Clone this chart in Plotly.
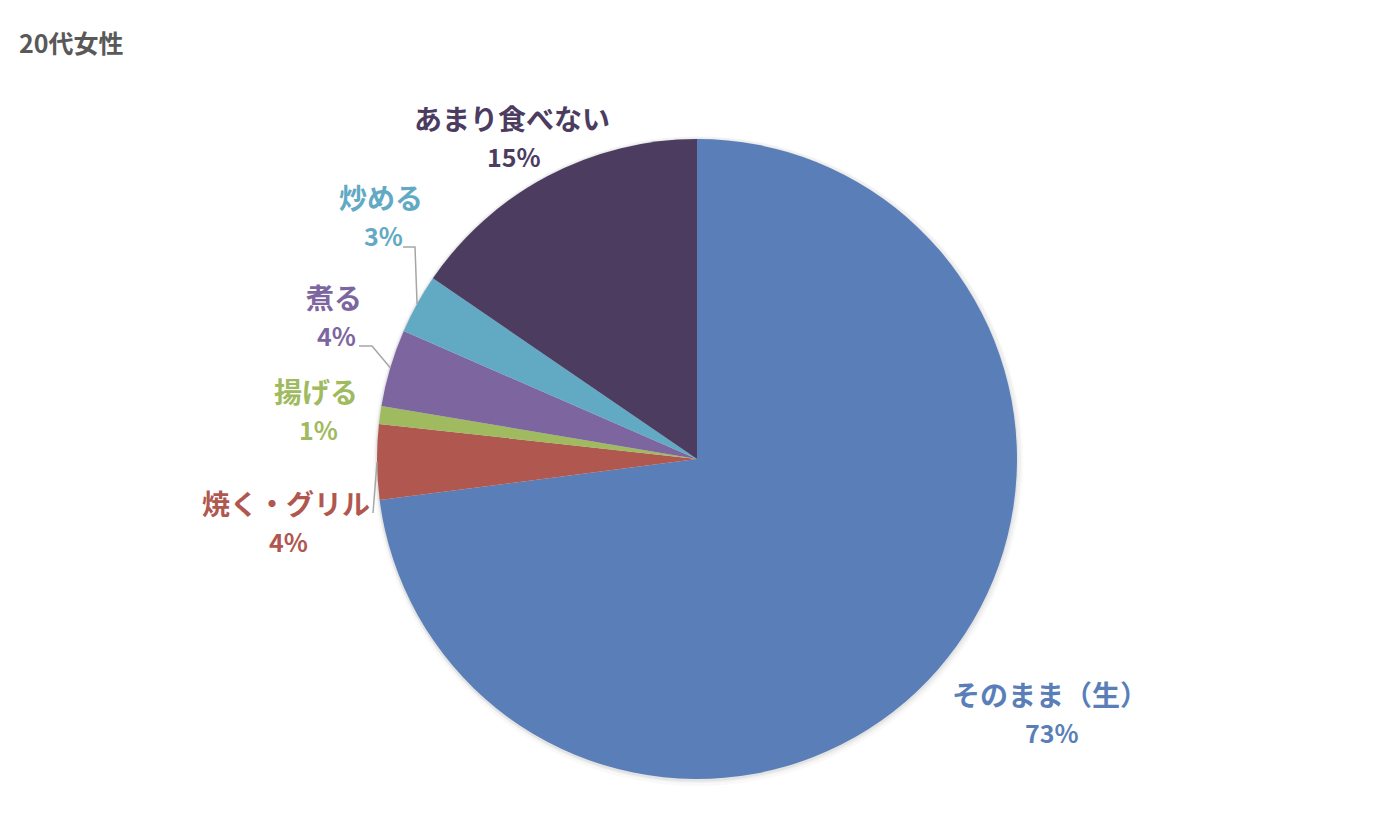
import math
import plotly.graph_objects as go

# page body has an 8px margin, so the figure is a bit smaller than the window
OFF = 8
W, H = 1384, 824

# data (clockwise from 12 o'clock)
labels = ["そのまま（生）", "焼く・グリル", "揚げる", "煮る", "炒める", "あまり食べない"]
values = [72.95, 3.8, 0.9, 3.9, 3.0, 15.45]
colors = ["#5A7FB8", "#B0574F", "#9FBA5F", "#7D66A0", "#62A9C4", "#4B3C60"]

# label placement (pixel centres of name line), leader line start points
label_pos = [(1050, 694), (286, 503), (316, 391), (334, 297), (381, 197), (512, 118)]
leader_from = {1: [(373, 513)], 3: [(359, 346), (372, 346)], 4: [(403, 247), (415, 247)]}

cx, cy, r = 697, 459, 320
font_name = "Noto Sans CJK JP"


def px(x):
    return (x - OFF) / W


def py(y):
    return 1 - (y - OFF) / H


def rim_point(i):
    total = sum(values)
    start = sum(values[:i]) / total * 360
    mid = math.radians(start + values[i] / total * 180)
    return cx + r * math.sin(mid), cy - r * math.cos(mid)


fig = go.Figure()

# soft shadow behind the pie
for grow, alpha, dx, dy in [(5, 0.025, 1, 2), (3, 0.035, 1, 1), (1.5, 0.05, 0, 1)]:
    rr = r + grow
    fig.add_trace(go.Pie(
        values=[1], labels=[""], sort=False, textinfo="none", hoverinfo="skip",
        marker=dict(colors=["rgba(0,0,0,%s)" % alpha], line=dict(width=0)),
        domain=dict(x=[px(cx + dx - rr), px(cx + dx + rr)],
                    y=[py(cy + dy + rr), py(cy + dy - rr)]),
        showlegend=False,
    ))

fig.add_trace(go.Pie(
    labels=labels, values=values, sort=False, direction="clockwise", rotation=0,
    textinfo="none",
    marker=dict(colors=colors, line=dict(width=0)),
    domain=dict(x=[px(cx - r), px(cx + r)], y=[py(cy + r), py(cy - r)]),
    showlegend=False,
))

total = sum(values)
for i, lab in enumerate(labels):
    x, y = label_pos[i]
    pct = "%d%%" % round(values[i] / total * 100)
    fig.add_annotation(x=px(x), y=py(y), xref="paper", yref="paper", text="<b>%s</b>" % lab,
                       xanchor="center", yanchor="middle", showarrow=False,
                       font=dict(family=font_name, size=28, color=colors[i]))
    fig.add_annotation(x=px(x + 2), y=py(y + 38), xref="paper", yref="paper", text="<b>%s</b>" % pct,
                       xanchor="center", yanchor="middle", showarrow=False,
                       font=dict(family=font_name, size=25, color=colors[i]))

# leader lines
for i, pts in leader_from.items():
    pts = pts + [rim_point(i)]
    path = "M %f %f" % (px(pts[0][0]), py(pts[0][1]))
    for p in pts[1:]:
        path += " L %f %f" % (px(p[0]), py(p[1]))
    fig.add_shape(type="path", path=path, xref="paper", yref="paper",
                  line=dict(color="#A6A6A6", width=1.5))

fig.add_annotation(x=px(17), y=py(42), xref="paper", yref="paper",
                   xanchor="left", yanchor="middle",
                   text="<b>20代女性</b>", showarrow=False,
                   font=dict(family=font_name, size=25, color="#595959"))

fig.update_layout(width=W, height=H, margin=dict(l=0, r=0, t=0, b=0),
                  paper_bgcolor="white", plot_bgcolor="white")

fig.write_html("out.html")
